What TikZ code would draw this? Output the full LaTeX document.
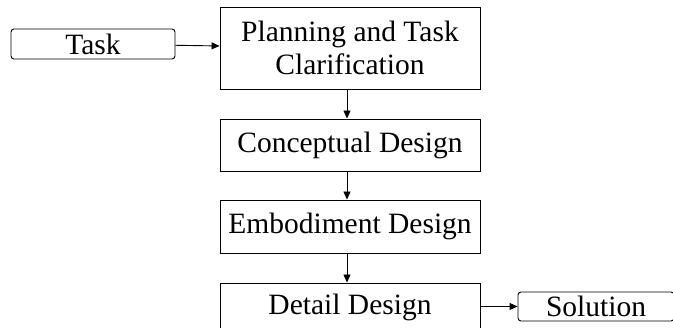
\documentclass[tikz,border=0pt]{standalone}
\usepackage{fontspec}
\setmainfont{Liberation Serif}
\usetikzlibrary{arrows.meta}
\begin{document}
\begin{tikzpicture}[x=1pt,y=-1pt,
  stage/.style={draw,line width=0.9pt,minimum width=260pt,inner sep=0pt,align=center,
    font=\fontsize{29.5}{35}\selectfont},
  term/.style={draw,line width=0.9pt,rounded corners=3pt,inner sep=0pt,
    font=\fontsize{29.5}{35}\selectfont},
  flow/.style={line width=0.9pt,-{Triangle[length=8pt,width=7pt]}}]
\useasboundingbox (0,0) rectangle (673,328);
\node[term,minimum width=164pt,minimum height=30pt] (task) at (93,44) {Task};
\node[stage,minimum height=82pt] (plan) at (350,48) {Planning and Task\\[-2pt]Clarification};
\node[stage,minimum height=52pt] (concept) at (350,145) {Conceptual Design};
\node[stage,minimum height=53pt] (embod) at (350,226.5) {Embodiment Design};
\node[stage,minimum height=48pt] (detail) at (350,307) {Detail Design};
\node[term,minimum width=156pt,minimum height=29pt] (sol) at (596,306.5) {Solution};
\draw[flow] (task) -- (plan);
\draw[flow] (plan.south -| 347,0) -- (concept.north -| 347,0);
\draw[flow] (concept.south -| 347,0) -- (embod.north -| 347,0);
\draw[flow] (embod.south -| 347,0) -- (detail.north -| 347,0);
\draw[flow] (detail.east |- sol) -- (sol);
\end{tikzpicture}
\end{document}
